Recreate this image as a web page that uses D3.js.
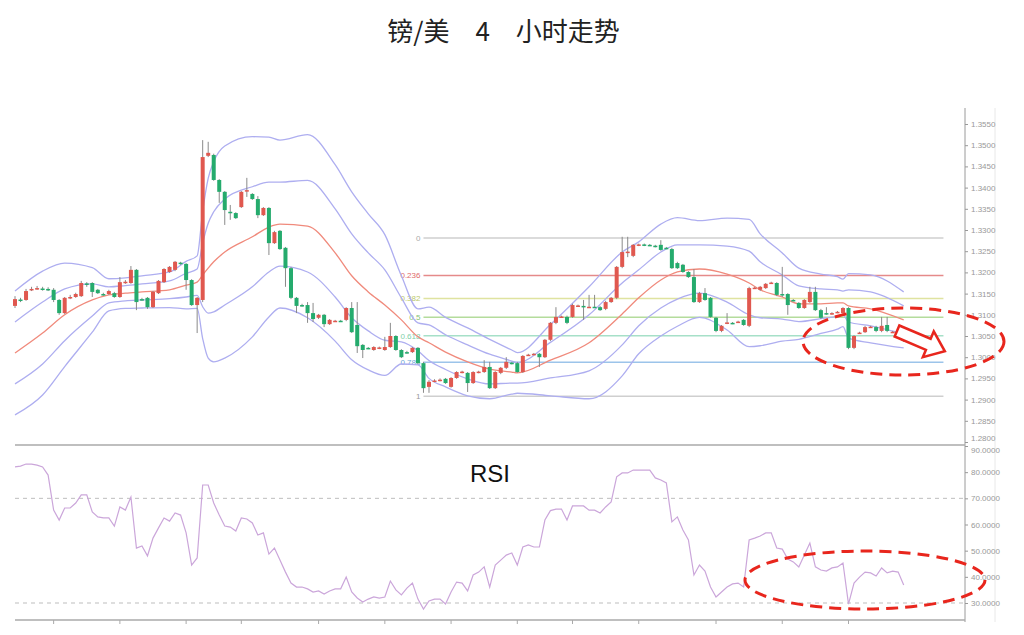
<!DOCTYPE html>
<html><head><meta charset="utf-8">
<script src="https://cdn.jsdelivr.net/npm/d3@7"></script>
<style>body{margin:0;background:#fff}svg{display:block}</style>
</head><body><svg id="c" width="1024" height="635"></svg>
<script>
// ---- data ----
const opens=[1.3121,1.3136,1.3135,1.3160,1.3162,1.3162,1.3161,1.3159,1.3135,1.3104,
1.3141,1.3142,1.3144,1.3174,1.3175,1.3159,1.3149,1.3149,1.3151,1.3142,
1.3177,1.3175,1.3206,1.3137,1.3140,1.3118,1.3151,1.3177,1.3201,1.3206,
1.3223,1.3220,1.3182,1.3123,1.3135,1.3475,1.3477,1.3418,1.3390,1.3343,
1.3340,1.3354,1.3393,1.3385,1.3373,1.3335,1.3352,1.3269,1.3298,1.3258,
1.3210,1.3140,1.3123,1.3123,1.3104,1.3093,1.3100,1.3078,1.3085,1.3086,
1.3088,1.3116,1.3076,1.3029,1.3022,1.3017,1.3022,1.3017,1.3024,1.3050,
1.3017,1.3012,1.3012,1.3022,1.2986,1.2930,1.2944,1.2946,1.2949,1.2930,
1.2951,1.2965,1.2963,1.2939,1.2965,1.2965,1.2977,1.2927,1.2963,1.2975,
1.2987,1.2986,1.2965,1.3005,1.3007,1.3008,1.3000,1.3041,1.3081,1.3095,
1.3095,1.3095,1.3121,1.3121,1.3118,1.3119,1.3118,1.3114,1.3130,1.3140,
1.3213,1.3248,1.3239,1.3265,1.3266,1.3265,1.3263,1.3265,1.3258,1.3255,
1.3222,1.3218,1.3201,1.3189,1.3130,1.3151,1.3140,1.3093,1.3062,1.3081,
1.3081,1.3083,1.3088,1.3074,1.3163,1.3159,1.3163,1.3175,1.3175,1.3149,
1.3149,1.3135,1.3128,1.3116,1.3130,1.3154,1.3111,1.3104,1.3103,1.3106,
1.3104,1.3116,1.3022,1.3057,1.3059,1.3071,1.3071,1.3062,1.3076,1.3059,
1.3055,1.3048];
const highs=[1.3144,1.3140,1.3161,1.3166,1.3168,1.3166,1.3165,1.3163,1.3137,1.3142,
1.3147,1.3152,1.3180,1.3177,1.3177,1.3161,1.3152,1.3159,1.3154,1.3189,
1.3182,1.3215,1.3208,1.3140,1.3142,1.3156,1.3182,1.3210,1.3215,1.3227,
1.3225,1.3222,1.3184,1.3142,1.3512,1.3508,1.3480,1.3420,1.3392,1.3359,
1.3342,1.3392,1.3423,1.3387,1.3380,1.3354,1.3354,1.3298,1.3300,1.3260,
1.3213,1.3142,1.3126,1.3130,1.3128,1.3102,1.3102,1.3090,1.3088,1.3088,
1.3118,1.3130,1.3130,1.3031,1.3024,1.3026,1.3025,1.3048,1.3081,1.3052,
1.3019,1.3015,1.3024,1.3024,1.2989,1.2946,1.2948,1.2950,1.2951,1.2953,
1.2967,1.2968,1.2965,1.2967,1.2968,1.2993,1.2989,1.2967,1.2977,1.3000,
1.2989,1.2989,1.3005,1.3008,1.3010,1.3010,1.3043,1.3083,1.3118,1.3098,
1.3098,1.3126,1.3124,1.3135,1.3147,1.3147,1.3121,1.3133,1.3142,1.3215,
1.3284,1.3284,1.3267,1.3268,1.3268,1.3267,1.3265,1.3276,1.3260,1.3258,
1.3225,1.3220,1.3203,1.3208,1.3154,1.3163,1.3142,1.3095,1.3076,1.3104,
1.3083,1.3086,1.3090,1.3166,1.3166,1.3168,1.3175,1.3178,1.3177,1.3213,
1.3151,1.3137,1.3130,1.3137,1.3166,1.3166,1.3114,1.3118,1.3106,1.3109,
1.3118,1.3118,1.3052,1.3060,1.3074,1.3074,1.3074,1.3095,1.3095,1.3062,
1.3057,1.3050];
const lows=[1.3116,1.3130,1.3133,1.3156,1.3159,1.3157,1.3156,1.3130,1.3100,1.3102,
1.3137,1.3140,1.3142,1.3166,1.3142,1.3149,1.3145,1.3147,1.3140,1.3140,
1.3173,1.3173,1.3111,1.3133,1.3114,1.3116,1.3149,1.3175,1.3199,1.3203,
1.3218,1.3159,1.3121,1.3057,1.3130,1.3472,1.3416,1.3364,1.3312,1.3324,
1.3326,1.3352,1.3378,1.3371,1.3328,1.3333,1.3241,1.3267,1.3253,1.3166,
1.3137,1.3104,1.3119,1.3081,1.3083,1.3090,1.3071,1.3076,1.3083,1.3083,
1.3085,1.3057,1.3010,1.2998,1.3019,1.3015,1.3019,1.3015,1.3022,1.3015,
1.2998,1.3008,1.3010,1.2984,1.2916,1.2916,1.2941,1.2943,1.2937,1.2928,
1.2949,1.2962,1.2918,1.2937,1.2962,1.2963,1.2925,1.2925,1.2960,1.2972,
1.2983,1.2963,1.2963,1.3003,1.3005,1.2977,1.2998,1.3038,1.3078,1.3093,
1.3078,1.3093,1.3119,1.3088,1.3116,1.3116,1.3109,1.3111,1.3128,1.3137,
1.3210,1.3236,1.3236,1.3262,1.3262,1.3262,1.3259,1.3251,1.3255,1.3208,
1.3208,1.3199,1.3187,1.3128,1.3128,1.3133,1.3093,1.3059,1.3059,1.3078,
1.3078,1.3081,1.3074,1.3071,1.3161,1.3156,1.3161,1.3173,1.3144,1.3142,
1.3100,1.3132,1.3114,1.3114,1.3128,1.3109,1.3090,1.3100,1.3100,1.3104,
1.3102,1.3019,1.3019,1.3055,1.3057,1.3069,1.3059,1.3059,1.3059,1.3057,
1.3052,1.3036];
const closes=[1.3137,1.3135,1.3156,1.3161,1.3163,1.3161,1.3160,1.3135,1.3104,1.3140,
1.3142,1.3149,1.3175,1.3173,1.3154,1.3151,1.3148,1.3156,1.3142,1.3177,
1.3178,1.3206,1.3130,1.3136,1.3118,1.3154,1.3180,1.3208,1.3213,1.3225,
1.3222,1.3182,1.3123,1.3140,1.3472,1.3482,1.3418,1.3390,1.3347,1.3342,
1.3328,1.3390,1.3394,1.3373,1.3335,1.3352,1.3269,1.3295,1.3255,1.3210,
1.3140,1.3121,1.3122,1.3104,1.3090,1.3100,1.3078,1.3088,1.3086,1.3085,
1.3116,1.3059,1.3026,1.3017,1.3021,1.3024,1.3023,1.3024,1.3050,1.3017,
1.3000,1.3011,1.3022,1.2986,1.2927,1.2942,1.2945,1.2947,1.2939,1.2951,
1.2965,1.2966,1.2939,1.2965,1.2966,1.2977,1.2927,1.2965,1.2975,1.2989,
1.2986,1.2965,1.3003,1.3006,1.3008,1.3000,1.3041,1.3081,1.3095,1.3096,
1.3081,1.3123,1.3122,1.3120,1.3119,1.3118,1.3111,1.3130,1.3140,1.3213,
1.3248,1.3249,1.3265,1.3266,1.3265,1.3264,1.3262,1.3253,1.3257,1.3210,
1.3210,1.3201,1.3189,1.3130,1.3151,1.3135,1.3095,1.3062,1.3074,1.3082,
1.3080,1.3084,1.3076,1.3163,1.3164,1.3166,1.3173,1.3176,1.3147,1.3148,
1.3123,1.3134,1.3116,1.3135,1.3154,1.3111,1.3093,1.3103,1.3104,1.3107,
1.3116,1.3022,1.3050,1.3058,1.3071,1.3072,1.3062,1.3074,1.3062,1.3060,
1.3054,1.3038];
const rsiValues=[82.0,82.3,83.1,83.1,82.7,82.0,78.9,65.5,61.7,66.3,
66.3,68.2,71.3,71.3,64.8,62.9,62.5,62.5,59.4,66.7,
65.5,70.5,51.0,51.8,48.0,54.8,58.7,62.5,61.3,64.4,
63.6,56.8,44.5,47.2,75.1,75.1,68.2,63.6,59.4,59.0,
57.5,62.5,62.1,60.6,56.0,56.8,48.7,51.0,46.4,41.8,
37.6,36.1,36.1,35.4,34.2,34.6,33.4,34.6,35.4,35.4,
39.9,34.2,31.9,30.4,31.5,32.3,31.9,32.3,38.4,35.0,
33.1,35.7,37.6,31.5,27.7,30.8,31.5,31.5,29.6,34.2,
38.0,37.6,34.6,40.7,41.8,43.8,36.1,44.5,46.4,48.3,
49.1,44.5,51.4,52.2,51.4,51.4,61.7,65.3,65.9,65.9,
61.7,67.1,67.1,67.1,65.5,65.5,64.4,66.7,68.6,78.2,
79.7,79.7,80.8,80.8,80.8,80.8,77.8,77.0,75.9,61.0,
62.9,57.9,54.1,40.7,44.5,42.2,36.1,32.3,34.2,36.1,
37.3,37.6,36.1,54.1,54.8,55.6,56.8,56.8,51.0,50.6,
46.8,45.7,43.8,48.3,52.9,43.8,42.6,42.2,43.4,43.8,
45.3,29.6,37.6,39.9,41.8,41.5,40.3,43.4,41.5,42.2,
41.8,36.9];
// Bollinger band samples (candle index, middle line, one standard deviation)
const bandIdx=[0,5,9,14,17,20,23,28,31,33,34,35,36,38,43,46,48,53,58,61,64,67,70,73,75,78,82,86,90,91,97,104,110,113,117,120,124,129,133,135,139,142,146,149,150,151,155,161];
const bandMid=[1.3010,1.3057,1.3100,1.3135,1.3147,1.3151,1.3154,1.3159,1.3170,1.3177,1.3194,1.3210,1.3225,1.3248,1.3284,1.3307,1.3314,1.3309,1.3246,1.3192,1.3154,1.3123,1.3088,1.3048,1.3034,1.3012,1.2989,1.2972,1.2965,1.2963,1.2993,1.3034,1.3102,1.3140,1.3182,1.3201,1.3208,1.3196,1.3175,1.3159,1.3142,1.3126,1.3126,1.3128,1.3128,1.3121,1.3114,1.3088];
const bandSd=[0.0073,0.0073,0.0061,0.0038,0.0019,0.0018,0.0019,0.0021,0.0028,0.0031,0.0075,0.0106,0.0118,0.0125,0.0118,0.0106,0.0099,0.0108,0.0104,0.0099,0.0092,0.0083,0.0052,0.0033,0.0042,0.0041,0.0040,0.0035,0.0026,0.0024,0.0042,0.0066,0.0073,0.0066,0.0066,0.0064,0.0057,0.0066,0.0075,0.0066,0.0052,0.0042,0.0035,0.0031,0.0028,0.0038,0.0040,0.0033];
const priceTicks=[1.2800,1.2850,1.2900,1.2950,1.3000,1.3050,1.3100,1.3150,1.3200,1.3250,1.3300,1.3350,1.3400,1.3450,1.3500,1.3550];
const rsiTicks=[30,40,50,60,70,80,90];
const rsiLevels=[30,70];
const fibLevels=[0,0.236,0.382,0.5,0.618,0.786,1];
const fibLabels=["0","0.236","0.382","0.5","0.618","0.786","1"];
const fibHigh=1.3281, fibLow=1.2908;
const fibStartIdx=74, fibEndIdx=168.2;
const periodTickIdx=[7,19,31,41,55,67,79,91,101,113,127,139,151];
const titleText="镑/美 4 小时走势";

// ---- styles ----
const fibLineColors=["#cfcfcf","#e58a8a","#dfe3a0","#b4dc9c","#a6e0c8","#9cc4ea","#cfcfcf"];
const fibTextColors=["#aaaaaa","#e06a6a","#b9c76a","#86c474","#7fcfa9","#6ea6d6","#999999"];
const UP="#e0584f", DOWN="#25ab6d";

const svg=d3.select("#c");
const x=d3.scaleLinear().domain([0,161]).range([15,903.7]);
const y=d3.scaleLinear().domain([1.28,1.355]).range([442,124]);
const yr=d3.scaleLinear().domain([30,90]).range([603,446]);

// title
svg.append("text").attr("x",503.5).attr("y",41).attr("text-anchor","middle")
  .attr("font-family","'Noto Sans CJK SC',sans-serif").attr("font-size",26).attr("fill","#222")
  .attr("word-spacing",20).style("white-space","pre").text(titleText);

// frame lines
svg.append("line").attr("x1",965).attr("x2",965).attr("y1",108).attr("y2",622).attr("stroke","#9a9a9a");
svg.append("line").attr("x1",995).attr("x2",995).attr("y1",108).attr("y2",622).attr("stroke","#e8e8e8");
svg.append("line").attr("x1",15).attr("x2",965).attr("y1",445).attr("y2",445).attr("stroke","#aaa").attr("stroke-width",1.5);
svg.append("line").attr("x1",15).attr("x2",965).attr("y1",620).attr("y2",620).attr("stroke","#aaa").attr("stroke-width",1.5);
svg.append("g").selectAll("line").data(periodTickIdx).join("line")
  .attr("x1",d=>x(d)).attr("x2",d=>x(d)).attr("y1",620).attr("y2",624).attr("stroke","#aaa");

// axes
function styleAxis(g){
  g.select(".domain").remove();
  g.selectAll(".tick line").attr("stroke","#999");
  g.selectAll(".tick text").attr("fill","#999").attr("font-size",8).attr("font-family","'Liberation Sans',Arial,sans-serif");
}
const pAxis=svg.append("g").attr("transform","translate(965,0)")
  .call(d3.axisRight(y).tickValues(priceTicks).tickFormat(d3.format(".4f")).tickSize(3).tickPadding(3)).call(styleAxis);
// lowest price label sits just above the RSI panel's top label
pAxis.selectAll(".tick").filter(d=>d===priceTicks[0]).select("text").attr("dy","-0.2em");
svg.append("g").attr("transform","translate(965,0)")
  .call(d3.axisRight(yr).tickValues(rsiTicks).tickFormat(d3.format(".4f")).tickSize(3).tickPadding(3)).call(styleAxis)
  .selectAll(".tick").filter(d=>d===90).select("text").attr("dy","0.75em");

// fibonacci
const fib=svg.append("g");
fibLevels.forEach((L,k)=>{
  const p=fibHigh-L*(fibHigh-fibLow);
  fib.append("line").attr("x1",x(fibStartIdx)).attr("x2",x(fibEndIdx)).attr("y1",y(p)).attr("y2",y(p))
    .attr("stroke",fibLineColors[k]).attr("stroke-width",1.5);
  fib.append("text").attr("x",x(fibStartIdx)-3).attr("y",y(p)+3).attr("text-anchor","end")
    .attr("font-size",8).attr("font-family","'Liberation Sans',Arial,sans-serif").attr("fill",fibTextColors[k]).text(fibLabels[k]);
});

// bollinger bands
const bandLine=d3.line().x(d=>x(d.i)).y(d=>y(d.v)).curve(d3.curveMonotoneX);
[2,1,-1,-2].forEach(k=>{
  svg.append("path").datum(bandIdx.map((i,j)=>({i,v:bandMid[j]+k*bandSd[j]})))
    .attr("d",bandLine).attr("fill","none").attr("stroke","#aeaef0").attr("stroke-width",1.3);
});
svg.append("path").datum(bandIdx.map((i,j)=>({i,v:bandMid[j]})))
  .attr("d",bandLine).attr("fill","none").attr("stroke","#f08a7c").attr("stroke-width",1.3);

// candles
const candles=opens.map((o,i)=>({i,o,h:highs[i],l:lows[i],c:closes[i]}));
const cg=svg.append("g");
cg.selectAll("line").data(candles).join("line")
  .attr("x1",d=>x(d.i)).attr("x2",d=>x(d.i)).attr("y1",d=>y(d.h)).attr("y2",d=>y(d.l))
  .attr("stroke","#8a8a8a").attr("stroke-width",1);
cg.selectAll("rect").data(candles).join("rect")
  .attr("x",d=>x(d.i)-2).attr("width",4)
  .attr("y",d=>y(Math.max(d.o,d.c)))
  .attr("height",d=>Math.max(1.5,Math.abs(y(d.o)-y(d.c))))
  .attr("fill",d=>d.c>=d.o?UP:DOWN);

// RSI
svg.append("g").selectAll("line").data(rsiLevels).join("line")
  .attr("x1",15).attr("x2",965).attr("y1",d=>yr(d)).attr("y2",d=>yr(d))
  .attr("stroke","#bdbdbd").attr("stroke-dasharray","4,4");
svg.append("path").datum(rsiValues)
  .attr("d",d3.line().x((d,i)=>x(i)).y(d=>yr(d)))
  .attr("fill","none").attr("stroke","#cba6da").attr("stroke-width",1.2);
svg.append("text").attr("x",470).attr("y",482).attr("font-size",24)
  .attr("font-family","'Liberation Sans',Arial,sans-serif").attr("fill","#111").text("RSI");

// annotations
const red="#e8261d";
svg.append("ellipse").attr("cx",903.5).attr("cy",341.5).attr("rx",100.5).attr("ry",33.5)
  .attr("fill","none").attr("stroke",red).attr("stroke-width",3).attr("stroke-dasharray","12,7");
svg.append("ellipse").attr("cx",865).attr("cy",580).attr("rx",120).attr("ry",29)
  .attr("fill","none").attr("stroke",red).attr("stroke-width",3).attr("stroke-dasharray","12,7");
const arrowPts=[[0,-6],[34,-6],[34,-14],[52,0],[34,14],[34,6],[0,6]];
svg.append("path").attr("transform","translate(897,331) rotate(23)")
  .attr("d",d3.line()(arrowPts)+"Z").attr("fill","#fff").attr("stroke",red).attr("stroke-width",2.5).attr("stroke-linejoin","miter");
</script></body></html>
